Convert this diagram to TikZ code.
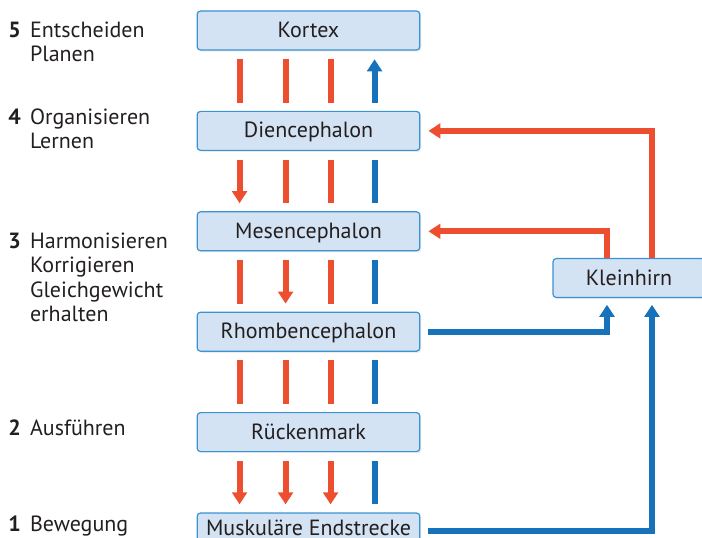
\documentclass[tikz,border=0pt]{standalone}
\usepackage{fontspec}
\setmainfont{PT Sans}
\usetikzlibrary{positioning,arrows.meta,shadows}
\definecolor{hirnBox}{HTML}{D4E3F3}
\definecolor{hirnEdge}{HTML}{3A92D0}
\definecolor{hirnRed}{HTML}{EE4E30}
\definecolor{hirnBlue}{HTML}{1672BA}
\definecolor{hirnText}{HTML}{231F20}

\begin{document}
\begin{tikzpicture}[x=0.75pt, y=-0.75pt, node distance=45.15pt,
  every node/.style={text=hirnText, font=\fontsize{16.5}{18.2}\selectfont},
  area/.style={rectangle, rounded corners=2.5pt, draw=hirnEdge, line width=0.9pt, fill=hirnBox, minimum width=167pt, minimum height=29.25pt, text height=12pt, text depth=1.5pt, drop shadow={opacity=0.15, shadow xshift=1.2pt, shadow yshift=-1.2pt}},
  lbl/.style={anchor=base west, inner sep=0pt},
  rl/.style={draw=hirnRed, line width=4.5pt, shorten <=6.5pt, shorten >=6pt},
  bl/.style={draw=hirnBlue, line width=4.5pt, shorten <=6.5pt, shorten >=6pt},
  rd/.style={rl, -{Triangle[length=9pt, width=11pt]}},
  bu/.style={bl, {Triangle[length=9pt, width=11pt]}-},
  kr/.style={draw=hirnRed, line width=4.5pt, -{Triangle[length=9pt, width=11pt]}, shorten >=6pt},
  kb/.style={draw=hirnBlue, line width=4.5pt, -{Triangle[length=9pt, width=11pt]}, shorten <=6pt, shorten >=5pt}]
\useasboundingbox (0,0) rectangle (702,538);

% Ebenen
\node[area] (kortex) at (308.5,30.5) {Kortex};
\node[area, below=of kortex] (dien) {Diencephalon};
\node[area, below=of dien] (mes) {Mesencephalon};
\node[area, below=of mes] (rhomb) {Rhombencephalon};
\node[area, below=of rhomb] (ruecken) {Rückenmark};
\node[area, below=of ruecken, minimum height=23.5pt] (musk) {Muskuläre Endstrecke};
\node[area, minimum width=114pt] (klein) at (629,278) {Kleinhirn};

% Funktionen links
\node[lbl] (f5) at (8,37.5) {\begin{tabular}[t]{@{}l@{\hspace{7pt}}l@{}}\textbf{5}&Entscheiden\\&Planen\end{tabular}};
\node[lbl] (f4) at (8,124.5) {\begin{tabular}[t]{@{}l@{\hspace{7pt}}l@{}}\textbf{4}&Organisieren\\&Lernen\end{tabular}};
\node[lbl] (f3) at (8,248.5) {\begin{tabular}[t]{@{}l@{\hspace{7pt}}l@{}}\textbf{3}&Harmonisieren\\&Korrigieren\\&Gleichgewicht\\&erhalten\end{tabular}};
\node[lbl] (f2) at (8,435.5) {\begin{tabular}[t]{@{}l@{\hspace{7pt}}l@{}}\textbf{2}&Ausführen\end{tabular}};
\node[lbl] (f1) at (8,531.5) {\begin{tabular}[t]{@{}l@{\hspace{7pt}}l@{}}\textbf{1}&Bewegung\end{tabular}};

% Bahnen zwischen den Ebenen
\foreach \x in {32.25pt,66.75pt,100.5pt}
  \draw[rl] ([xshift=\x]kortex.south west) -- ([xshift=\x]dien.north west);
\draw[bu] ([xshift=133.5pt]kortex.south west) -- ([xshift=133.5pt]dien.north west);

\draw[rd] ([xshift=32.25pt]dien.south west) -- ([xshift=32.25pt]mes.north west);
\foreach \x in {66.75pt,100.5pt}
  \draw[rl] ([xshift=\x]dien.south west) -- ([xshift=\x]mes.north west);
\draw[bl] ([xshift=133.5pt]dien.south west) -- ([xshift=133.5pt]mes.north west);

\draw[rd] ([xshift=66.75pt]mes.south west) -- ([xshift=66.75pt]rhomb.north west);
\foreach \x in {32.25pt,100.5pt}
  \draw[rl] ([xshift=\x]mes.south west) -- ([xshift=\x]rhomb.north west);
\draw[bl] ([xshift=133.5pt]mes.south west) -- ([xshift=133.5pt]rhomb.north west);

\foreach \x in {32.25pt,66.75pt,100.5pt}
  \draw[rl] ([xshift=\x]rhomb.south west) -- ([xshift=\x]ruecken.north west);
\draw[bl] ([xshift=133.5pt]rhomb.south west) -- ([xshift=133.5pt]ruecken.north west);

\foreach \x in {32.25pt,66.75pt,100.5pt}
  \draw[rd] ([xshift=\x]ruecken.south west) -- ([xshift=\x]musk.north west);
\draw[bl] ([xshift=133.5pt]ruecken.south west) -- ([xshift=133.5pt]musk.north west);

% Kleinhirn
\draw[kr] ([xshift=17.25pt]klein.north) |- (dien.east);
\draw[kr] ([xshift=-16.5pt]klein.north) |- (mes.east);
\draw[kb] (rhomb.east) -| ([xshift=-16.5pt]klein.south);
\draw[kb] ([yshift=-1.5pt]musk.east) -| ([xshift=17.25pt]klein.south);
\end{tikzpicture}
\end{document}
